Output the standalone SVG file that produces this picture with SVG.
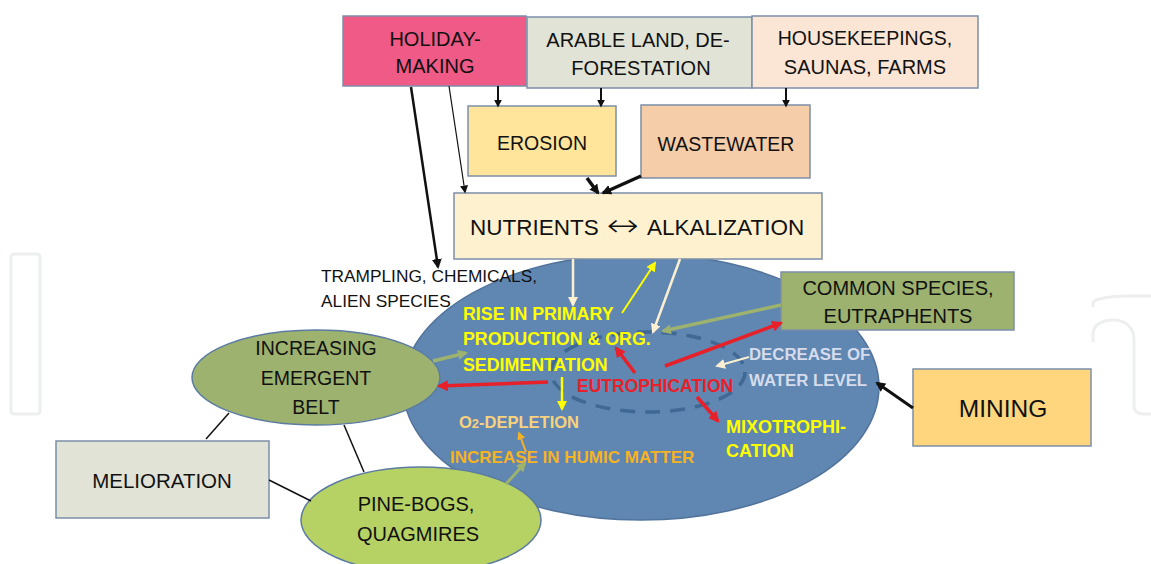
<svg xmlns="http://www.w3.org/2000/svg" width="1151" height="564" viewBox="0 0 1151 564">
<style>
.box{stroke:#7C8EA8;stroke-width:1.5}
.t{font-family:"Liberation Sans",Arial,sans-serif;fill:#111;text-anchor:middle}
.s{font-family:"Liberation Sans",Arial,sans-serif;fill:#111}
.b{font-family:"Liberation Sans",Arial,sans-serif;font-weight:bold}
.wm{fill:none;stroke:#EDEFEF;stroke-width:3}
.c{fill:none;stroke-linecap:butt}
</style>
<defs>
<marker id="mk" viewBox="0 0 10 10" refX="8" refY="5" markerUnits="userSpaceOnUse" markerWidth="10" markerHeight="10" orient="auto"><path d="M0,0 L10,5 L0,10 z" fill="#111"/></marker>
<marker id="mks" viewBox="0 0 10 10" refX="8" refY="5" markerUnits="userSpaceOnUse" markerWidth="8" markerHeight="8" orient="auto"><path d="M0,0 L10,5 L0,10 z" fill="#111"/></marker>
<marker id="mc" viewBox="0 0 10 10" refX="8" refY="5" markerUnits="userSpaceOnUse" markerWidth="10" markerHeight="10" orient="auto"><path d="M0,0 L10,5 L0,10 z" fill="#FCEFD2"/></marker>
<marker id="my" viewBox="0 0 10 10" refX="8" refY="5" markerUnits="userSpaceOnUse" markerWidth="10" markerHeight="10" orient="auto"><path d="M0,0 L10,5 L0,10 z" fill="#FFFF00"/></marker>
<marker id="mg" viewBox="0 0 10 10" refX="8" refY="5" markerUnits="userSpaceOnUse" markerWidth="10" markerHeight="10" orient="auto"><path d="M0,0 L10,5 L0,10 z" fill="#9CB26E"/></marker>
<marker id="mr" viewBox="0 0 10 10" refX="8" refY="5" markerUnits="userSpaceOnUse" markerWidth="11" markerHeight="11" orient="auto"><path d="M0,0 L10,5 L0,10 z" fill="#E8202A"/></marker>
<marker id="mo" viewBox="0 0 10 10" refX="8" refY="5" markerUnits="userSpaceOnUse" markerWidth="8" markerHeight="8" orient="auto"><path d="M0,0 L10,5 L0,10 z" fill="#F5B324"/></marker>
</defs>
<rect width="1151" height="564" fill="#FFFFFF"/>
<g id="watermark">
<rect class="wm" x="11" y="254" width="29" height="160" rx="3"/>
<path class="wm" d="M1093,307 L1093,303 C1093,299 1110,296 1128,296 L1151,296"/>
<path class="wm" d="M1093,342 L1093,334 C1093,325 1102,320 1113,320 C1126,320 1134,328 1134,340 L1134,406 C1134,411 1138,414 1143,414 L1151,414"/>
</g>
<g id="lake">
<ellipse cx="641" cy="387" rx="238" ry="133" fill="#5F87B1" stroke="#52739B" stroke-width="1.5"/>
<ellipse cx="648" cy="372" rx="97" ry="40" fill="none" stroke="#3F6894" stroke-width="3.5" stroke-dasharray="15 10"/>
</g>
<g id="holiday"><rect class="box" x="343" y="16" width="183" height="70" fill="#EF5A87"/><text class="t" font-size="20" x="435" y="46">HOLIDAY-</text><text class="t" font-size="20" x="435" y="73">MAKING</text></g>
<g id="arable"><rect class="box" x="527" y="17" width="225" height="71" fill="#E0E3D6"/><text class="t" font-size="20" x="638" y="47">ARABLE LAND, DE-</text><text class="t" font-size="20" x="641" y="75">FORESTATION</text></g>
<g id="housekeepings"><rect class="box" x="752" y="16" width="226" height="72" fill="#FBE5D5"/><text class="t" font-size="19.5" x="865" y="45">HOUSEKEEPINGS,</text><text class="t" font-size="20" x="865" y="74">SAUNAS, FARMS</text></g>
<g id="erosion"><rect class="box" x="468" y="106" width="148" height="70" fill="#FFE59C"/><text class="t" font-size="19.5" x="542" y="150">EROSION</text></g>
<g id="wastewater"><rect class="box" x="641" y="105" width="169" height="73" fill="#F5CDA8"/><text class="t" font-size="19.5" x="726" y="151">WASTEWATER</text></g>
<g id="nutrients"><rect class="box" x="454" y="193" width="368" height="66" fill="#FEF1D0"/>
<text class="s" font-size="22.5" x="470" y="235">NUTRIENTS</text>
<text class="s" font-size="31" style="font-family:'DejaVu Sans',sans-serif;font-weight:200" text-anchor="middle" transform="translate(623,236) scale(1.25,1)">↔</text>
<text class="s" font-size="22.5" x="647" y="235">ALKALIZATION</text></g>
<g id="trampling"><text class="s" font-size="17.3" x="321" y="282">TRAMPLING, CHEMICALS,</text><text class="s" font-size="17.3" x="321" y="307">ALIEN SPECIES</text></g>
<g id="common"><rect class="box" x="781" y="272" width="233" height="58" fill="#9CB26E"/><text class="t" font-size="20" x="898" y="295">COMMON SPECIES,</text><text class="t" font-size="20" x="898" y="323">EUTRAPHENTS</text></g>
<g id="mining"><rect class="box" x="913" y="369" width="178" height="77" fill="#FFD67D"/><text class="t" font-size="24.5" x="1003" y="417">MINING</text></g>
<g id="melioration"><rect class="box" x="56" y="441" width="213" height="77" fill="#E0E3D6"/><text class="t" font-size="20.5" x="162" y="488">MELIORATION</text></g>
<g id="emergent"><ellipse cx="316" cy="377.5" rx="124" ry="47.5" fill="#9CB26E" stroke="#5B7BA3" stroke-width="1.5"/><text class="t" font-size="19.5" x="316" y="355">INCREASING</text><text class="t" font-size="19.5" x="316" y="385">EMERGENT</text><text class="t" font-size="19.5" x="316" y="414">BELT</text></g>
<g id="pinebogs"><ellipse cx="421" cy="520" rx="120" ry="53" fill="#B6D164" stroke="#5B7BA3" stroke-width="1.5"/><text class="t" font-size="20" x="416" y="511">PINE-BOGS,</text><text class="t" font-size="20" x="418" y="541">QUAGMIRES</text></g>
<g id="rise"><text class="b" font-size="17.8" fill="#FFFF00" x="463" y="320">RISE IN PRIMARY</text><text class="b" font-size="17.8" fill="#FFFF00" x="463" y="345">PRODUCTION &amp; ORG.</text><text class="b" font-size="17.8" fill="#FFFF00" x="463" y="371">SEDIMENTATION</text></g>
<g id="eutrophication"><text class="b" font-size="17.5" fill="#E8202A" x="577" y="392">EUTROPHICATION</text></g>
<g id="decrease"><text class="b" font-size="16.8" fill="#D6DCEC" x="749" y="360">DECREASE OF</text><text class="b" font-size="16.8" fill="#D6DCEC" x="749" y="386">WATER LEVEL</text></g>
<g id="o2"><text class="b" font-size="16.5" fill="#F9D27E" x="459" y="428">O<tspan font-size="13">2</tspan>-DEPLETION</text></g>
<g id="humic"><text class="b" font-size="17" fill="#F5B324" x="450" y="463">INCREASE IN HUMIC MATTER</text></g>
<g id="mixo"><text class="b" font-size="18" fill="#FFFF00" x="726" y="433">MIXOTROPHI-</text><text class="b" font-size="18" fill="#FFFF00" x="726" y="457">CATION</text></g>
<g id="connectors" class="c">
<line x1="411" y1="87" x2="438" y2="267" stroke="#111" stroke-width="2.5" marker-end="url(#mk)"/>
<line x1="449" y1="86" x2="465" y2="192" stroke="#111" stroke-width="1.2" marker-end="url(#mks)"/>
<line x1="498" y1="86" x2="498" y2="106" stroke="#111" stroke-width="2" marker-end="url(#mks)"/>
<line x1="601" y1="88" x2="601" y2="106" stroke="#111" stroke-width="2" marker-end="url(#mks)"/>
<line x1="786" y1="88" x2="786" y2="106" stroke="#111" stroke-width="2" marker-end="url(#mks)"/>
<line x1="587" y1="178" x2="598" y2="193" stroke="#111" stroke-width="3.5" marker-end="url(#mk)"/>
<line x1="641" y1="176" x2="603" y2="193" stroke="#111" stroke-width="3.5" marker-end="url(#mk)"/>
<line x1="573" y1="259" x2="573" y2="305" stroke="#FCEFD2" stroke-width="2.5" marker-end="url(#mc)"/>
<line x1="622" y1="313" x2="655" y2="263" stroke="#FFFF00" stroke-width="2" marker-end="url(#my)"/>
<line x1="680" y1="259" x2="653" y2="332" stroke="#FCEFD2" stroke-width="2.5" marker-end="url(#mc)"/>
<line x1="781" y1="305" x2="663" y2="331" stroke="#9CB26E" stroke-width="3.5" marker-end="url(#mg)"/>
<line x1="635" y1="373" x2="616" y2="348" stroke="#E8202A" stroke-width="3.5" marker-end="url(#mr)"/>
<line x1="665" y1="366" x2="781" y2="323" stroke="#E8202A" stroke-width="3.5" marker-end="url(#mr)"/>
<line x1="548" y1="382" x2="439" y2="386" stroke="#E8202A" stroke-width="3.5" marker-end="url(#mr)"/>
<line x1="697" y1="397" x2="718" y2="421" stroke="#E8202A" stroke-width="3.5" marker-end="url(#mr)"/>
<line x1="749" y1="357" x2="717" y2="366" stroke="#FCEFD2" stroke-width="2" marker-end="url(#mc)"/>
<line x1="913" y1="408" x2="877" y2="383" stroke="#111" stroke-width="3" marker-end="url(#mk)"/>
<line x1="562" y1="377" x2="562" y2="409" stroke="#FFFF00" stroke-width="2.5" marker-end="url(#my)"/>
<line x1="526" y1="452" x2="519" y2="433" stroke="#F5B324" stroke-width="2" marker-end="url(#mo)"/>
<line x1="506" y1="484" x2="525" y2="463" stroke="#9CB26E" stroke-width="3" marker-end="url(#mg)"/>
<line x1="433" y1="361" x2="466" y2="353" stroke="#9CB26E" stroke-width="3.5" marker-end="url(#mg)"/>
<line x1="206" y1="439" x2="229" y2="413" stroke="#111" stroke-width="1.5"/>
<line x1="344" y1="425" x2="364" y2="472" stroke="#111" stroke-width="1.5"/>
<line x1="269" y1="480" x2="311" y2="501" stroke="#111" stroke-width="1.5"/>
</g>
</svg>
